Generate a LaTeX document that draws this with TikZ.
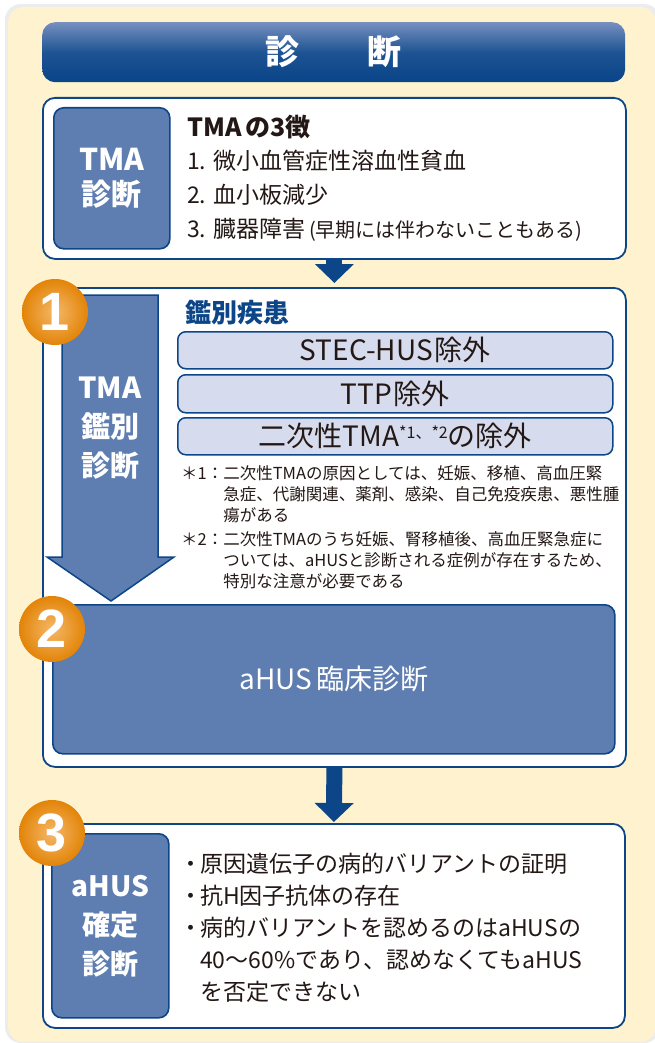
\documentclass[tikz,border=0pt]{standalone}
\usepackage{fontspec}
\setmainfont{Noto Sans CJK JP}
\newfontfamily\numfont{Liberation Sans}
\usetikzlibrary{arrows.meta}

\definecolor{navy}{RGB}{12,70,136}
\definecolor{tagblue}{RGB}{94,125,176}
\definecolor{palebg}{RGB}{214,220,237}
\definecolor{cream}{RGB}{254,242,207}
\definecolor{headtop}{RGB}{118,144,192}
\definecolor{headbot}{RGB}{8,68,136}
\definecolor{ink}{RGB}{35,24,21}
\definecolor{orin}{RGB}{245,184,104}
\definecolor{orout}{RGB}{226,132,8}

\newcommand{\fsz}[2]{\fontsize{#1pt}{#2pt}\selectfont}

\tikzset{
  frame/.style={draw=navy, line width=1.8pt, fill=white, rounded corners=12pt,
    anchor=north west, inner sep=0},
  tag/.style={draw=navy, line width=1.6pt, fill=tagblue, rounded corners=10pt,
    anchor=north west, inner sep=0, text=white, align=center},
  pale/.style={draw=navy, line width=1.5pt, fill=palebg, rounded corners=8pt,
    anchor=north west, inner sep=0, minimum width=435, minimum height=37,
    text=ink, font=\fsz{28}{28}},
  txt/.style={anchor=base west, inner sep=0, text=ink, font=\fsz{23}{23}},
  numdot/.style={circle, minimum size=66, inner sep=0, inner color=orin,
    outer color=orout, text=white, font=\numfont\bfseries\fsz{54}{54}},
  flow/.style={navy, line width=16pt, -{Triangle[width=38pt,length=19pt]}}
}

\begin{document}
\begin{tikzpicture}[x=1pt,y=-1pt]
 \def\W{583}
 \useasboundingbox (0,0) rectangle (654,1043);

 % background panel
 \fill[gray!15, rounded corners=16pt] (5,4) rectangle (660,1043);
 \fill[cream, rounded corners=16pt] (8,7) rectangle (656,1042);

 % header
 \node[anchor=north west, minimum width=\W, minimum height=60, rounded corners=13pt,
   top color=headtop, bottom color=headbot, middle color=headbot!80!headtop,
   text=white, font=\bfseries\fsz{34}{34}] (head) at (42,22) {診　　断};

 % TMA diagnosis
 \node[frame, minimum width=\W, minimum height=161] (tma) at (42,97) {};
 \node[tag, minimum width=116, minimum height=141, font=\bfseries\fsz{30}{35}] (tmatag) at (53,107) {TMA\\診断};
 \node[txt, font=\bfseries\fsz{25}{25}] (triad) at (187,137) {TMA\hspace{4pt}の3徴};
 \node[txt] (triad1) at (187,170) {1. 微小血管症性溶血性貧血};
 \node[txt] (triad2) at (187,203) {2. 血小板減少};
 \node[txt] (triad3) at (187,237) {3. 臓器障害\hspace{4pt}{\fsz{20}{20}(早期には伴わないこともある)}};

 % step 1 and 2
 \node[frame, minimum width=\W, minimum height=479] (sec1) at (42,287) {};
 \draw[flow] (tma.south) -- ([yshift=4pt]sec1.north);

 \draw[navy, line width=1.5pt, fill=tagblue] (62,295) -- (158,295) -- (158,557) -- (174,557)
   -- (111,601) -- (47,557) -- (62,557) -- cycle;
 \node[text=white, align=center, font=\bfseries\fsz{29}{39}] (tmadiff) at (110,428) {TMA\\鑑別\\診断};

 \node[txt, text=navy, font=\bfseries\fsz{26}{26}] (ddx) at (185,322) {鑑別疾患};
 \node[pale] (ex1) at (177,331) {STEC-HUS\hspace{2pt}除外};
 \node[pale, minimum height=38] (ex2) at (177,374) {TTP\hspace{2pt}除外};
 \node[pale] (ex3) at (177,417) {二次性TMA\raisebox{8pt}{\fsz{16}{16}*1、*2}の除外};

 \node[txt, font=\fsz{16.5}{21}] (note1) at (181,479) {\begin{tabular}[t]{@{}l@{}l@{}}
   ＊1：&二次性TMAの原因としては、妊娠、移植、高血圧緊\\
   &急症、代謝関連、薬剤、感染、自己免疫疾患、悪性腫\\
   &瘍がある\end{tabular}};
 \node[txt, font=\fsz{16.5}{21}] (note2) at (181,545) {\begin{tabular}[t]{@{}l@{}l@{}}
   ＊2：&二次性TMAのうち妊娠、腎移植後、高血圧緊急症に\\
   &ついては、aHUSと診断される症例が存在するため、\\
   &特別な注意が必要である\end{tabular}};

 \node[tag, minimum width=562, minimum height=149, font=\fsz{28}{28}] (clin) at (52,604) {aHUS\hspace{4pt}臨床診断};

 % step 3
 \node[frame, minimum width=582, minimum height=204] (sec3) at (42,823) {};
 \draw[flow] (sec1.south) -- ([yshift=1pt]sec3.north);
 \node[tag, minimum width=117, minimum height=184, font=\bfseries\fsz{28}{39}] (confirm) at (51,833) {aHUS\\確定\\診断};
 \node[txt, font=\fsz{23}{32}] (findings) at (181,872) {\begin{tabular}[t]{@{}l@{}l@{}}
   \makebox[19pt]{・}&原因遺伝子の病的バリアントの証明\\
   \makebox[19pt]{・}&抗H因子抗体の存在\\
   \makebox[19pt]{・}&病的バリアントを認めるのはaHUSの\\
   &40～60\%であり、認めなくてもaHUS\\
   &を否定できない\end{tabular}};

 % step numbers
 \node[numdot] (n1) at (55,312) {1};
 \node[numdot] (n2) at (52,629) {2};
 \node[numdot] (n3) at (52,833) {3};
\end{tikzpicture}
\end{document}
